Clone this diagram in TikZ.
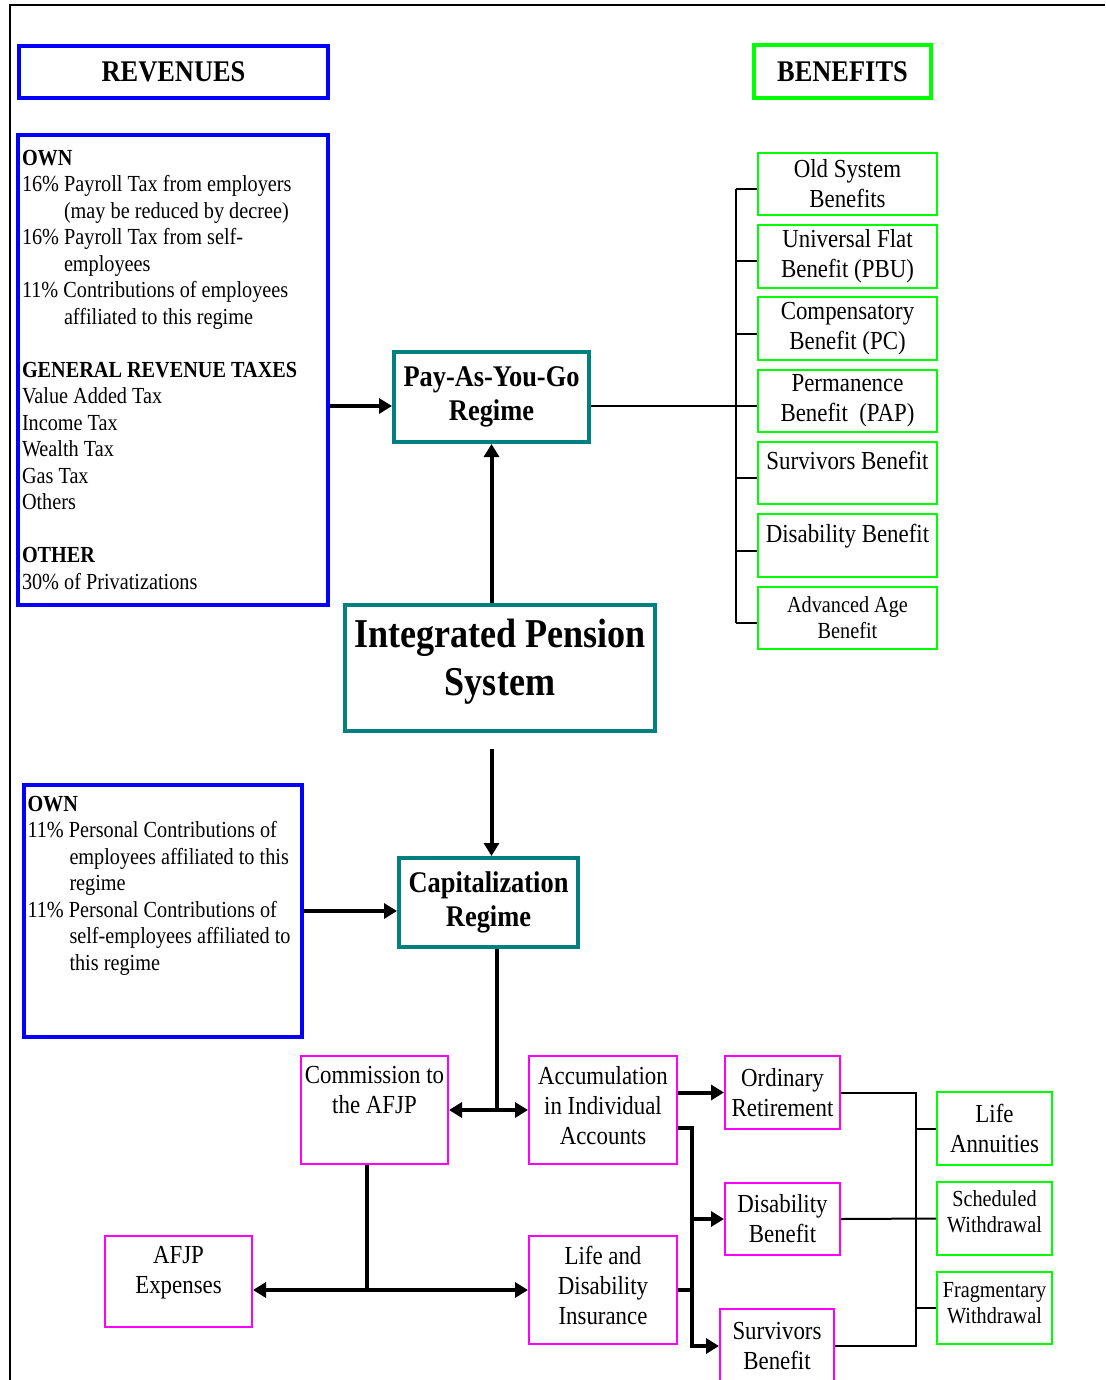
\documentclass[tikz,border=0pt]{standalone}
\usepackage{fontspec}
\setmainfont{Liberation Serif}[FakeStretch=0.88]
\usepackage{tikz}
\usetikzlibrary{arrows.meta,positioning}

\definecolor{revblue}{RGB}{0,0,255}
\definecolor{bengreen}{RGB}{0,255,0}
\definecolor{regteal}{RGB}{0,128,128}
\definecolor{flowpink}{RGB}{255,0,255}
\newcommand{\tightsp}{\spaceskip=0.22em plus 0.05em minus 0.03em\relax}

\begin{document}
\begin{tikzpicture}[
    x=1pt, y=-1pt,
    node distance=7.8pt,
    head/.style={rectangle, line width=4pt, inner sep=0pt, align=center, font=\fontsize{30}{34}\selectfont\bfseries},
    srcbox/.style={rectangle, draw=revblue, line width=4pt, inner sep=4pt, align=left, font=\fontsize{23}{26.5}\selectfont},
    regbox/.style={rectangle, draw=regteal, line width=4pt, inner sep=0pt, align=center, font=\fontsize{30}{34.5}\selectfont\bfseries},
    benbox/.style={rectangle, draw=bengreen, line width=2pt, inner sep=0pt, align=center, minimum width=179pt, minimum height=62.5pt, font=\fontsize{26}{30}\selectfont},
    flowbox/.style={rectangle, draw=flowpink, line width=2pt, inner sep=0pt, align=center, font=\fontsize{26}{30}\selectfont},
    arrow/.style={-{Triangle[length=13pt,width=15pt]}, line width=4pt},
    bar/.style={line width=4pt},
    link/.style={line width=2pt}
]
\useasboundingbox (0,0) rectangle (1105,1380);

% Page frame
\draw[line width=2pt] (10,1380) -- (10,5) -- (1105,5);

% Headings
\node[head, draw=revblue, minimum width=309pt, minimum height=52pt] (revhead) at (173.5,72) {REVENUES};
\node[head, draw=bengreen, minimum width=177pt, minimum height=53pt] (benhead) at (842.5,71.5) {BENEFITS};

% Revenues of the pay-as-you-go regime
\node[srcbox, text width=302pt, minimum height=470pt] (paygsrc) at (173,370) {\tightsp
\textbf{OWN}\\
16\% Payroll Tax from employers\\
\hspace*{42pt}(may be reduced by decree)\\
16\% Payroll Tax from self-\\
\hspace*{42pt}employees\\
11\% Contributions of employees\\
\hspace*{42pt}affiliated to this regime\\[26.5pt]
\textbf{GENERAL REVENUE TAXES}\\
Value Added Tax\\
Income Tax\\
Wealth Tax\\
Gas Tax\\
Others\\[26.5pt]
\textbf{OTHER}\\
30\% of Privatizations};

% Regimes
\node[regbox, minimum width=195pt, minimum height=90pt] (payg) at (491.5,397) {Pay-As-You-Go\\Regime};
\node[regbox, minimum width=310pt, minimum height=126pt, text depth=22pt, font=\fontsize{41}{48}\selectfont\bfseries] (ips) at (500,668) {Integrated Pension\\System};
\node[regbox, minimum width=179pt, minimum height=89pt] (cap) at (488.5,902.5) {Capitalization\\Regime};

% Benefits of the pay-as-you-go regime
\node[benbox] (oldsys) at (847.5,184) {Old System\\Benefits};
\node[benbox, below=of oldsys] (pbu) {Universal Flat\\Benefit (PBU)};
\node[benbox, below=of pbu] (pc) {Compensatory\\Benefit (PC)};
\node[benbox, below=of pc] (pap) {Permanence\\Benefit\ \ (PAP)};
\node[benbox, below=of pap, text depth=25pt] (survivors) {Survivors Benefit};
\node[benbox, below=of survivors, text depth=25pt] (disability) {Disability Benefit};
\node[benbox, below=of disability, font=\fontsize{23}{26}\selectfont] (advage) {Advanced Age\\Benefit};

% Revenues of the capitalization regime
\node[srcbox, text width=270pt, minimum height=252pt] (capsrc) at (162.5,911) {\tightsp
\textbf{OWN}\\
11\% Personal Contributions of\\
\hspace*{42pt}employees affiliated to this\\
\hspace*{42pt}regime\\
11\% Personal Contributions of\\
\hspace*{42pt}self-employees affiliated to\\
\hspace*{42pt}this regime\\[29.5pt]
\mbox{}};

% Capitalization flows
\node[flowbox, minimum width=147pt, minimum height=108pt, text depth=40pt] (commission) at (374.5,1110) {Commission to\\the AFJP};
\node[flowbox, minimum width=148pt, minimum height=108pt, text depth=10pt] (accum) at (603,1110) {Accumulation\\in Individual\\Accounts};
\node[flowbox, minimum width=148pt, minimum height=108pt, text depth=10pt] (lifeins) at (603,1290) {Life and\\Disability\\Insurance};
\node[flowbox, minimum width=147pt, minimum height=91pt, text depth=24pt] (expenses) at (178.5,1281.5) {AFJP\\Expenses};
\node[flowbox, minimum width=115pt, minimum height=73pt] (ordinary) at (782.5,1092.5) {Ordinary\\Retirement};
\node[flowbox, minimum width=115pt, minimum height=72pt] (disret) at (782.5,1219) {Disability\\Benefit};
\node[flowbox, minimum width=114pt, minimum height=74pt] (survret) at (777,1346) {Survivors\\Benefit};

% Payment forms
\node[benbox, minimum width=115pt, minimum height=73pt] (annuities) at (994.5,1128.5) {Life\\Annuities};
\node[benbox, minimum width=115pt, minimum height=73pt, text depth=13pt, font=\fontsize{23}{26}\selectfont] (scheduled) at (994.5,1218.5) {Scheduled\\Withdrawal};
\node[benbox, minimum width=115pt, minimum height=72pt, text depth=10pt, font=\fontsize{23}{26}\selectfont] (fragment) at (994.5,1308) {Fragmentary\\Withdrawal};

% Bus coordinates
\coordinate (bustop) at ([xshift=-21pt,yshift=-5pt]oldsys.west);
\coordinate (busbot) at ([xshift=-21pt,yshift=-5pt]advage.west);
\coordinate (split) at ([xshift=8.5pt]cap.south |- commission.east);
\coordinate (split2) at ([xshift=-7.5pt]commission.south |- lifeins.west);
\coordinate (fork) at ([xshift=14pt,yshift=-18pt]accum.east);
\coordinate (rbus) at ([xshift=75pt]ordinary.east);

% Arrows
\draw[arrow] ([yshift=-9pt]payg.west -| paygsrc.east) -- ([yshift=-9pt]payg.west);
\draw[arrow] (ips.north -| payg.south) -- (payg.south);
\draw[link] ([yshift=-9pt]payg.east) -- ([yshift=-9pt]payg.east -| bustop);
\draw[link] (bustop) -- (busbot);
\foreach \b in {oldsys,pbu,pc,pap,survivors,disability,advage}
    \draw[link] ([yshift=-5pt]\b.west) -- ([yshift=-5pt]\b.west -| bustop);
\draw[arrow] ([yshift=-16pt]ips.south -| payg.south) -- (cap.north -| payg.south);
\draw[arrow] (capsrc.east) -- (capsrc.east -| cap.west);
\draw[bar] ([xshift=8.5pt]cap.south) -- (split);
\draw[arrow] (split) -- (commission.east);
\draw[arrow] (split) -- (accum.west);
\draw[bar] ([xshift=-7.5pt]commission.south) -- (split2);
\draw[arrow] (split2) -- (split2 -| expenses.east);
\draw[arrow] (split2) -- (lifeins.west);
\draw[arrow] (ordinary.west -| accum.east) -- (ordinary.west);
\draw[arrow] ([yshift=-18pt]accum.east) -- (fork) -- (fork |- survret.west) -- (survret.west);
\draw[arrow] (fork |- disret.west) -- (disret.west);
\draw[bar] (lifeins.east) -- (lifeins.east -| fork);
\draw[link] (ordinary.east) -- (ordinary.east -| rbus) -- (survret.east -| rbus) -- (survret.east);
\draw[link] (disret.east) -- (scheduled.west);
\draw[link] (annuities.west -| rbus) -- (annuities.west);
\draw[link] (fragment.west -| rbus) -- (fragment.west);

\end{tikzpicture}
\end{document}
